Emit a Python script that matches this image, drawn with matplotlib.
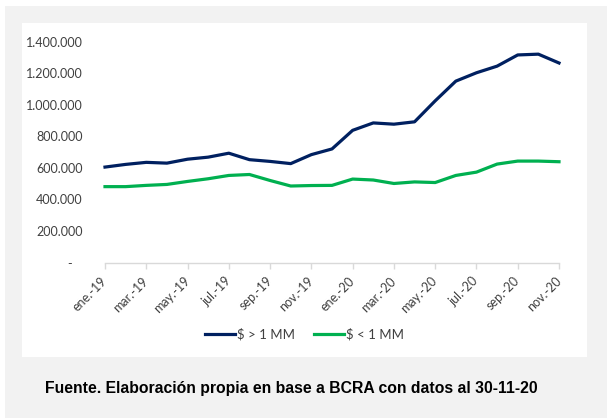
import matplotlib.pyplot as plt
from matplotlib.patches import Rectangle
from matplotlib.ticker import FuncFormatter

# meses ene-19 .. nov-20
MESES = ["ene.-19", "feb.-19", "mar.-19", "abr.-19", "may.-19", "jun.-19",
         "jul.-19", "ago.-19", "sep.-19", "oct.-19", "nov.-19", "dic.-19",
         "ene.-20", "feb.-20", "mar.-20", "abr.-20", "may.-20", "jun.-20",
         "jul.-20", "ago.-20", "sep.-20", "oct.-20", "nov.-20"]

MAYOR_1MM = [605000, 622000, 635000, 630000, 655000, 668000, 693000, 652000,
             641000, 627000, 684000, 720000, 838000, 885000, 877000, 892000,
             1025000, 1150000, 1203000, 1245000, 1316000, 1321000, 1265000]

MENOR_1MM = [481000, 481000, 489000, 495000, 514000, 531000, 552000, 558000,
             520000, 485000, 488000, 489000, 529000, 523000, 501000, 511000,
             507000, 552000, 573000, 624000, 643000, 643000, 639000]

Y_TICKS = [0, 200000, 400000, 600000, 800000, 1000000, 1200000, 1400000]

AZUL = "#002060"
VERDE = "#00B050"
GRIS_TXT = "#404040"
GRIS_EJE = "#d9d9d9"

W, H = 607, 418

plt.rcParams["font.family"] = ["Lato", "DejaVu Sans"]

fig = plt.figure(figsize=(W / 100, H / 100), dpi=100)
fig.patch.set_facecolor("white")

# fondo gris y panel blanco del grafico
fig.patches.append(Rectangle((5 / W, 0), 1 - 5 / W, 1 - 6 / H,
                             transform=fig.transFigure, facecolor="#f2f2f2",
                             edgecolor="none", zorder=-10))
fig.patches.append(Rectangle((22 / W, 1 - 357 / H), (587 - 22) / W, (357 - 23) / H,
                             transform=fig.transFigure, facecolor="white",
                             edgecolor="none", zorder=-9))

ax = fig.add_axes([105 / W, 1 - 262.5 / H, (559 - 105) / W, (262.5 - 41.7) / H])
ax.patch.set_alpha(0)

x = list(range(len(MESES)))
l1, = ax.plot(x, MAYOR_1MM, color=AZUL, lw=2.3, label="$ > 1 MM", clip_on=False)
l2, = ax.plot(x, MENOR_1MM, color=VERDE, lw=2.3, label="$ < 1 MM", clip_on=False)

ax.set_xlim(0, len(MESES) - 1)
ax.set_ylim(0, 1400000)

ax.set_yticks(Y_TICKS)
ax.yaxis.set_major_formatter(FuncFormatter(
    lambda v, p: "-   " if v == 0 else f"{int(v):,}".replace(",", ".")))
ax.tick_params(axis="y", length=0, pad=16, labelsize=9, labelcolor=GRIS_TXT)

ax.set_xticks(x[::2])
ax.set_xticklabels(MESES[::2], rotation=45, ha="right", va="center",
                   rotation_mode="anchor")
ax.tick_params(axis="x", length=4, width=1, color=GRIS_EJE, pad=8,
               labelsize=9, labelcolor=GRIS_TXT)

for s in ("top", "right", "left"):
    ax.spines[s].set_visible(False)
ax.spines["bottom"].set_color(GRIS_EJE)
ax.spines["bottom"].set_linewidth(1)

fig.legend(handles=[l1, l2], loc="center", bbox_to_anchor=(304.5 / W, 1 - 334 / H),
           ncol=2, frameon=False, fontsize=9.5, handlelength=2.3,
           handletextpad=0.15, columnspacing=1.4, labelcolor=GRIS_TXT)

fig.text(45 / W, 1 - 388 / H,
         "Fuente. Elaboración propia en base a BCRA con datos al 30-11-20",
         family=["Liberation Sans", "DejaVu Sans"], fontweight="bold",
         fontsize=11.3, color="black", ha="left", va="center")

fig.savefig("out.png", dpi=100)
